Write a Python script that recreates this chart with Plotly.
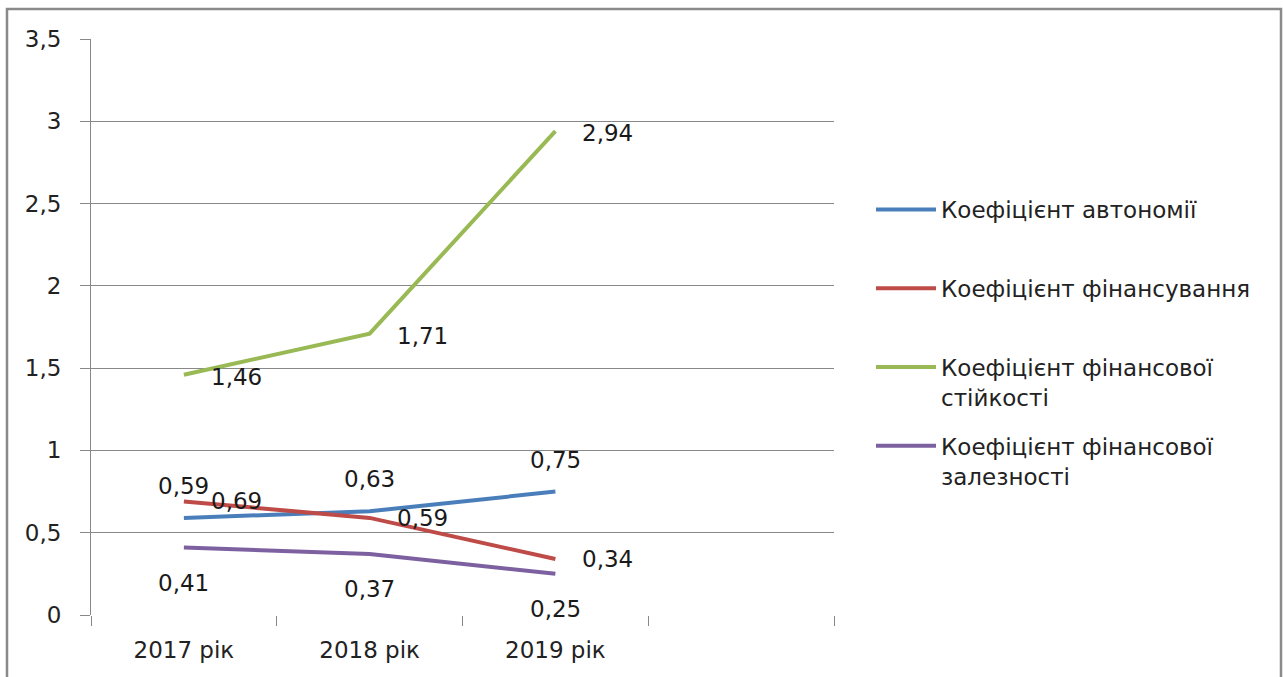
import plotly.graph_objects as go

categories = ["2017 рік", "2018 рік", "2019 рік"]
series_names = [
    "Коефіцієнт автономії",
    "Коефіцієнт фінансування",
    "Коефіцієнт фінансової<br>стійкості",
    "Коефіцієнт фінансової<br>залезності",
]
autonomy = [0.59, 0.63, 0.75]
financing = [0.69, 0.59, 0.34]
stability = [1.46, 1.71, 2.94]
dependence = [0.41, 0.37, 0.25]
y_ticks = [0, 0.5, 1, 1.5, 2, 2.5, 3, 3.5]

series_values = [autonomy, financing, stability, dependence]
colors = ["#4A7EBB", "#BE4B48", "#98B954", "#7D60A0"]
# label placement style per series: (xanchor, xshift, yshift)
label_style = [("center", 0, 32), ("left", 25, 0), ("left", 25, -2), ("center", 0, -35)]

FONT = "DejaVu Sans"
FS = 23
x_pos = [i + 0.5 for i in range(len(categories))]

fig = go.Figure()
annotations = []
for name, vals, col, (xa, xs, ys) in zip(series_names, series_values, colors, label_style):
    legend_name = name if "<br>" in name else name + "<br>\u00a0"
    fig.add_trace(go.Scatter(
        x=x_pos, y=vals, mode="lines", name=legend_name,
        line=dict(color=col, width=4), legendgroup=name,
    ))
    for xv, yv in zip(x_pos, vals):
        annotations.append(dict(
            x=xv, y=yv, xref="x", yref="y", text=f"{yv:.2f}".replace(".", ","),
            showarrow=False, xanchor=xa, yanchor="middle", xshift=xs, yshift=ys,
            font=dict(family=FONT, size=FS, color="#1a1a1a"),
        ))

L, R, T, B = 91, 834, 39, 615
W, H = 1283, 677
pw, ph = R - L, B - T

def px_x(p):
    return (p - L) / pw

def px_y(p):
    return (B - p) / ph

fig.update_layout(
    width=W, height=H,
    margin=dict(l=L, r=W - R, t=T, b=H - B),
    paper_bgcolor="white", plot_bgcolor="white",
    separators=", ",
    font=dict(family=FONT, size=FS, color="#222222"),
    showlegend=True,
    legend=dict(
        x=px_x(871), y=px_y(188), xanchor="left", yanchor="top",
        valign="top", traceorder="grouped", tracegroupgap=16,
        itemwidth=60,
        font=dict(family=FONT, size=FS, color="#222222"),
        bgcolor="rgba(0,0,0,0)",
    ),
    annotations=annotations,
    xaxis=dict(
        range=[0, 4], tickmode="array", tickvals=x_pos, ticktext=categories,
        ticks="", showgrid=False, zeroline=False, showline=False,
        ticklabelstandoff=19,
        tickfont=dict(family=FONT, size=FS, color="#222222"),
        minor=dict(tickmode="linear", tick0=0, dtick=1, ticks="outside",
                   ticklen=10, tickwidth=1, tickcolor="#888888", showgrid=False),
    ),
    yaxis=dict(
        range=[0, 3.5], tickmode="array", tickvals=y_ticks,
        ticks="outside", ticklen=10, tickwidth=1, tickcolor="#888888",
        showgrid=True, gridcolor="#888888", gridwidth=1,
        zeroline=False, showline=True, linecolor="#888888", linewidth=1,
        ticklabelstandoff=14,
        tickfont=dict(family=FONT, size=FS, color="#222222"),
    ),
    shapes=[dict(
        type="rect", xref="paper", yref="paper",
        x0=px_x(7), x1=px_x(1281), y0=px_y(690), y1=px_y(9),
        line=dict(color="#8a8a8a", width=2.5), layer="below",
    )],
)

fig.write_html("out.html")
